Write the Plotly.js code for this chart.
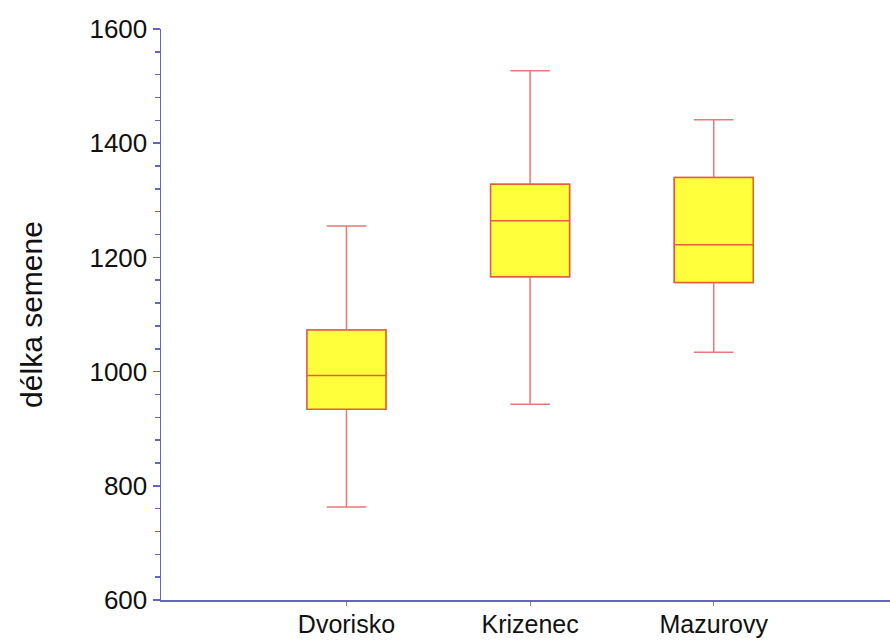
<!DOCTYPE html>
<html>
<head>
<meta charset="utf-8">
<script src="https://cdn.plot.ly/plotly-3.0.1.min.js"></script>
<style>html,body{margin:0;padding:0;background:#fff;}#chart{width:890px;height:641px;}</style>
</head>
<body>
<div id="chart"></div>
<script>
var categories = ["Dvorisko", "Krizenec", "Mazurovy"];
var lowerWhisker = [763, 943, 1034];
var q1Values = [934, 1166, 1156];
var medians = [993, 1264, 1222];
var q3Values = [1073, 1328, 1340];
var upperWhisker = [1255, 1527, 1441];
var yTickVals = [600, 800, 1000, 1200, 1400, 1600];

var whiskerTrace = {
  type: "box",
  x: categories,
  q1: q1Values, median: medians, q3: q3Values,
  lowerfence: lowerWhisker, upperfence: upperWhisker,
  width: 0.43, whiskerwidth: 0.5,
  fillcolor: "#ffff3c",
  line: {color: "#e87878", width: 1.5},
  boxpoints: false, hoverinfo: "skip", showlegend: false
};
var boxTrace = {
  type: "box",
  x: categories,
  q1: q1Values, median: medians, q3: q3Values,
  lowerfence: q1Values, upperfence: q3Values,
  width: 0.43, whiskerwidth: 0,
  fillcolor: "#ffff3c",
  line: {color: "#e0603a", width: 1.5},
  boxpoints: false, showlegend: false
};

var minorTicks = [];
for (var v = 600; v <= 1600; v += 40) { if (yTickVals.indexOf(v) < 0) minorTicks.push(v); }

var layout = {
  width: 890, height: 641,
  margin: {l: 161, r: 0, t: 29, b: 41, pad: 0},
  paper_bgcolor: "#ffffff", plot_bgcolor: "#ffffff",
  font: {family: "Liberation Sans, Arial, sans-serif", color: "#111111"},
  boxmode: "overlay",
  showlegend: false,
  xaxis: {
    type: "category",
    range: [-1.01, 2.96],
    showline: true, linecolor: "#6464c8", linewidth: 1.5,
    ticks: "outside", ticklen: 4, tickcolor: "#888888", tickwidth: 1,
    ticklabelstandoff: -3,
    showgrid: false, zeroline: false,
    tickfont: {size: 25, color: "#111111"},
    fixedrange: true
  },
  yaxis: {
    range: [600, 1600],
    tickvals: yTickVals,
    showline: true, linecolor: "#6464c8", linewidth: 1.5,
    ticks: "outside", ticklen: 7, tickcolor: "#6464c8", tickwidth: 1.5,
    minor: {tickvals: minorTicks, ticks: "outside", ticklen: 5, tickcolor: "#6464c8", tickwidth: 1.5, showgrid: false},
    showgrid: false, zeroline: false,
    tickfont: {size: 26, color: "#111111"},
    title: {text: "délka semene", font: {size: 30, color: "#111111"}, standoff: 38},
    fixedrange: true
  }
};

Plotly.newPlot("chart", [whiskerTrace, boxTrace], layout, {displayModeBar: false, staticPlot: true});
</script>
</body>
</html>
